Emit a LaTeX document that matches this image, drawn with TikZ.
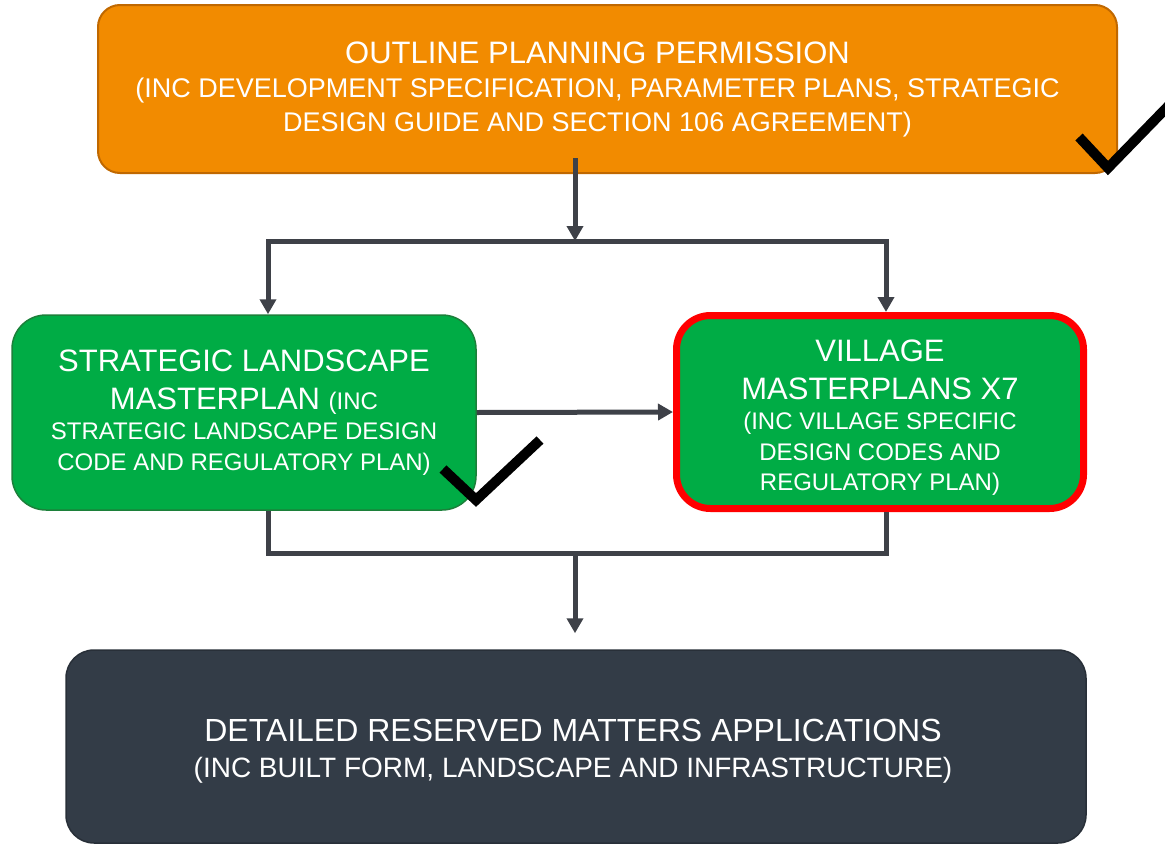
\documentclass[tikz,border=0pt]{standalone}
\usepackage{fontspec}
\setmainfont{Liberation Sans}
\usetikzlibrary{arrows.meta}

\definecolor{oppfill}{RGB}{242,139,0}
\definecolor{oppline}{RGB}{192,104,0}
\definecolor{slmfill}{RGB}{0,172,69}
\definecolor{slmline}{RGB}{28,128,58}
\definecolor{vmpline}{RGB}{255,0,0}
\definecolor{rmafill}{RGB}{51,60,71}
\definecolor{rmaline}{RGB}{40,47,56}
\definecolor{connline}{RGB}{62,65,72}

% fixed word spaces in the node texts
\newcommand{\fixsp}{\spaceskip=\fontdimen2\font\xspaceskip=\fontdimen2\font}
\newcommand{\hugetxt}{\fontsize{32}{38}\selectfont\fixsp}
\newcommand{\bigtxt}{\fontsize{31}{38}\selectfont\fixsp}
\newcommand{\medtxt}{\fontsize{28}{36}\selectfont\fixsp}
\newcommand{\midtxt}{\fontsize{27}{34}\selectfont\fixsp}
\newcommand{\smalltxt}{\fontsize{24}{30.5}\selectfont\fixsp}

\begin{document}
\begin{tikzpicture}[x=1pt,y=-1pt,
    box/.style={inner sep=0pt,align=center,text=white},
    conn/.style={connline,line width=5pt},
    arr/.style={-{Triangle[width=16pt,length=15pt]}},
    tick/.style={black,line width=10pt,miter limit=10}]

            \useasboundingbox (0,0) rectangle (1165,846);

            % The four boxes
            \node[box,fill=oppfill,draw=oppline,line width=2pt,rounded corners=22pt,
                  minimum width=1019pt,minimum height=168pt,text width=1000pt] (opp) at (607.5,89)
                  {\advance\rightskip 20pt
                   {\bigtxt OUTLINE PLANNING PERMISSION\par}
                   {\midtxt (INC DEVELOPMENT SPECIFICATION, PARAMETER PLANS, STRATEGIC\\
                   DESIGN GUIDE AND SECTION 106 AGREEMENT)\par}};
            \node[box,fill=slmfill,draw=slmline,line width=1.5pt,rounded corners=34pt,
                  minimum width=464pt,minimum height=195pt,text width=450pt] (slm) at (244,412.5)
                  {{\bigtxt STRATEGIC LANDSCAPE\\MASTERPLAN {\smalltxt (INC}\par}
                   {\smalltxt STRATEGIC LANDSCAPE DESIGN\\
                   CODE AND REGULATORY PLAN)\par}};
            \node[box,fill=slmfill,draw=vmpline,line width=7pt,rounded corners=34pt,
                  minimum width=407pt,minimum height=193pt,text width=390pt] (vmp) at (880,412)
                  {{\bigtxt\rule{0pt}{33pt}VILLAGE\\MASTERPLANS X7\par}
                   {\smalltxt (INC VILLAGE SPECIFIC\\DESIGN CODES AND\\REGULATORY PLAN)\par}};
            \node[box,fill=rmafill,draw=rmaline,line width=1.5pt,rounded corners=28pt,
                  minimum width=1020pt,minimum height=193pt,text width=1000pt] (rma) at (576,746.5)
                  {\advance\rightskip 6pt
                   {\hugetxt\rule{0pt}{31pt}DETAILED RESERVED MATTERS APPLICATIONS\par}
                   {\medtxt (INC BUILT FORM, LANDSCAPE AND INFRASTRUCTURE)\par}};

            % Connectors
            \coordinate (split) at (575,241);
            \coordinate (join) at (575,553);

            \draw[conn,arr] ([xshift=-32.5pt,yshift=16pt]opp.south) -- (split);
            \draw[conn,arr] (split) -| ([xshift=24pt]slm.north);
            \draw[conn,arr] (split) -| ([xshift=6pt]vmp.north);
            \draw[conn,arr] (slm.east) -- (vmp.west);
            \draw[conn] ([xshift=24pt]slm.south) |- (join) -| ([xshift=6pt]vmp.south);
            \draw[conn,arr,shorten >=16pt] (join) -- (join |- rma.north);

            % Ticks
            \draw[tick] (1079,137) -- (1108,168) -- (1178,96);
            \draw[tick] (443,469) -- (476,500) -- (540,440);

\end{tikzpicture}
\end{document}
